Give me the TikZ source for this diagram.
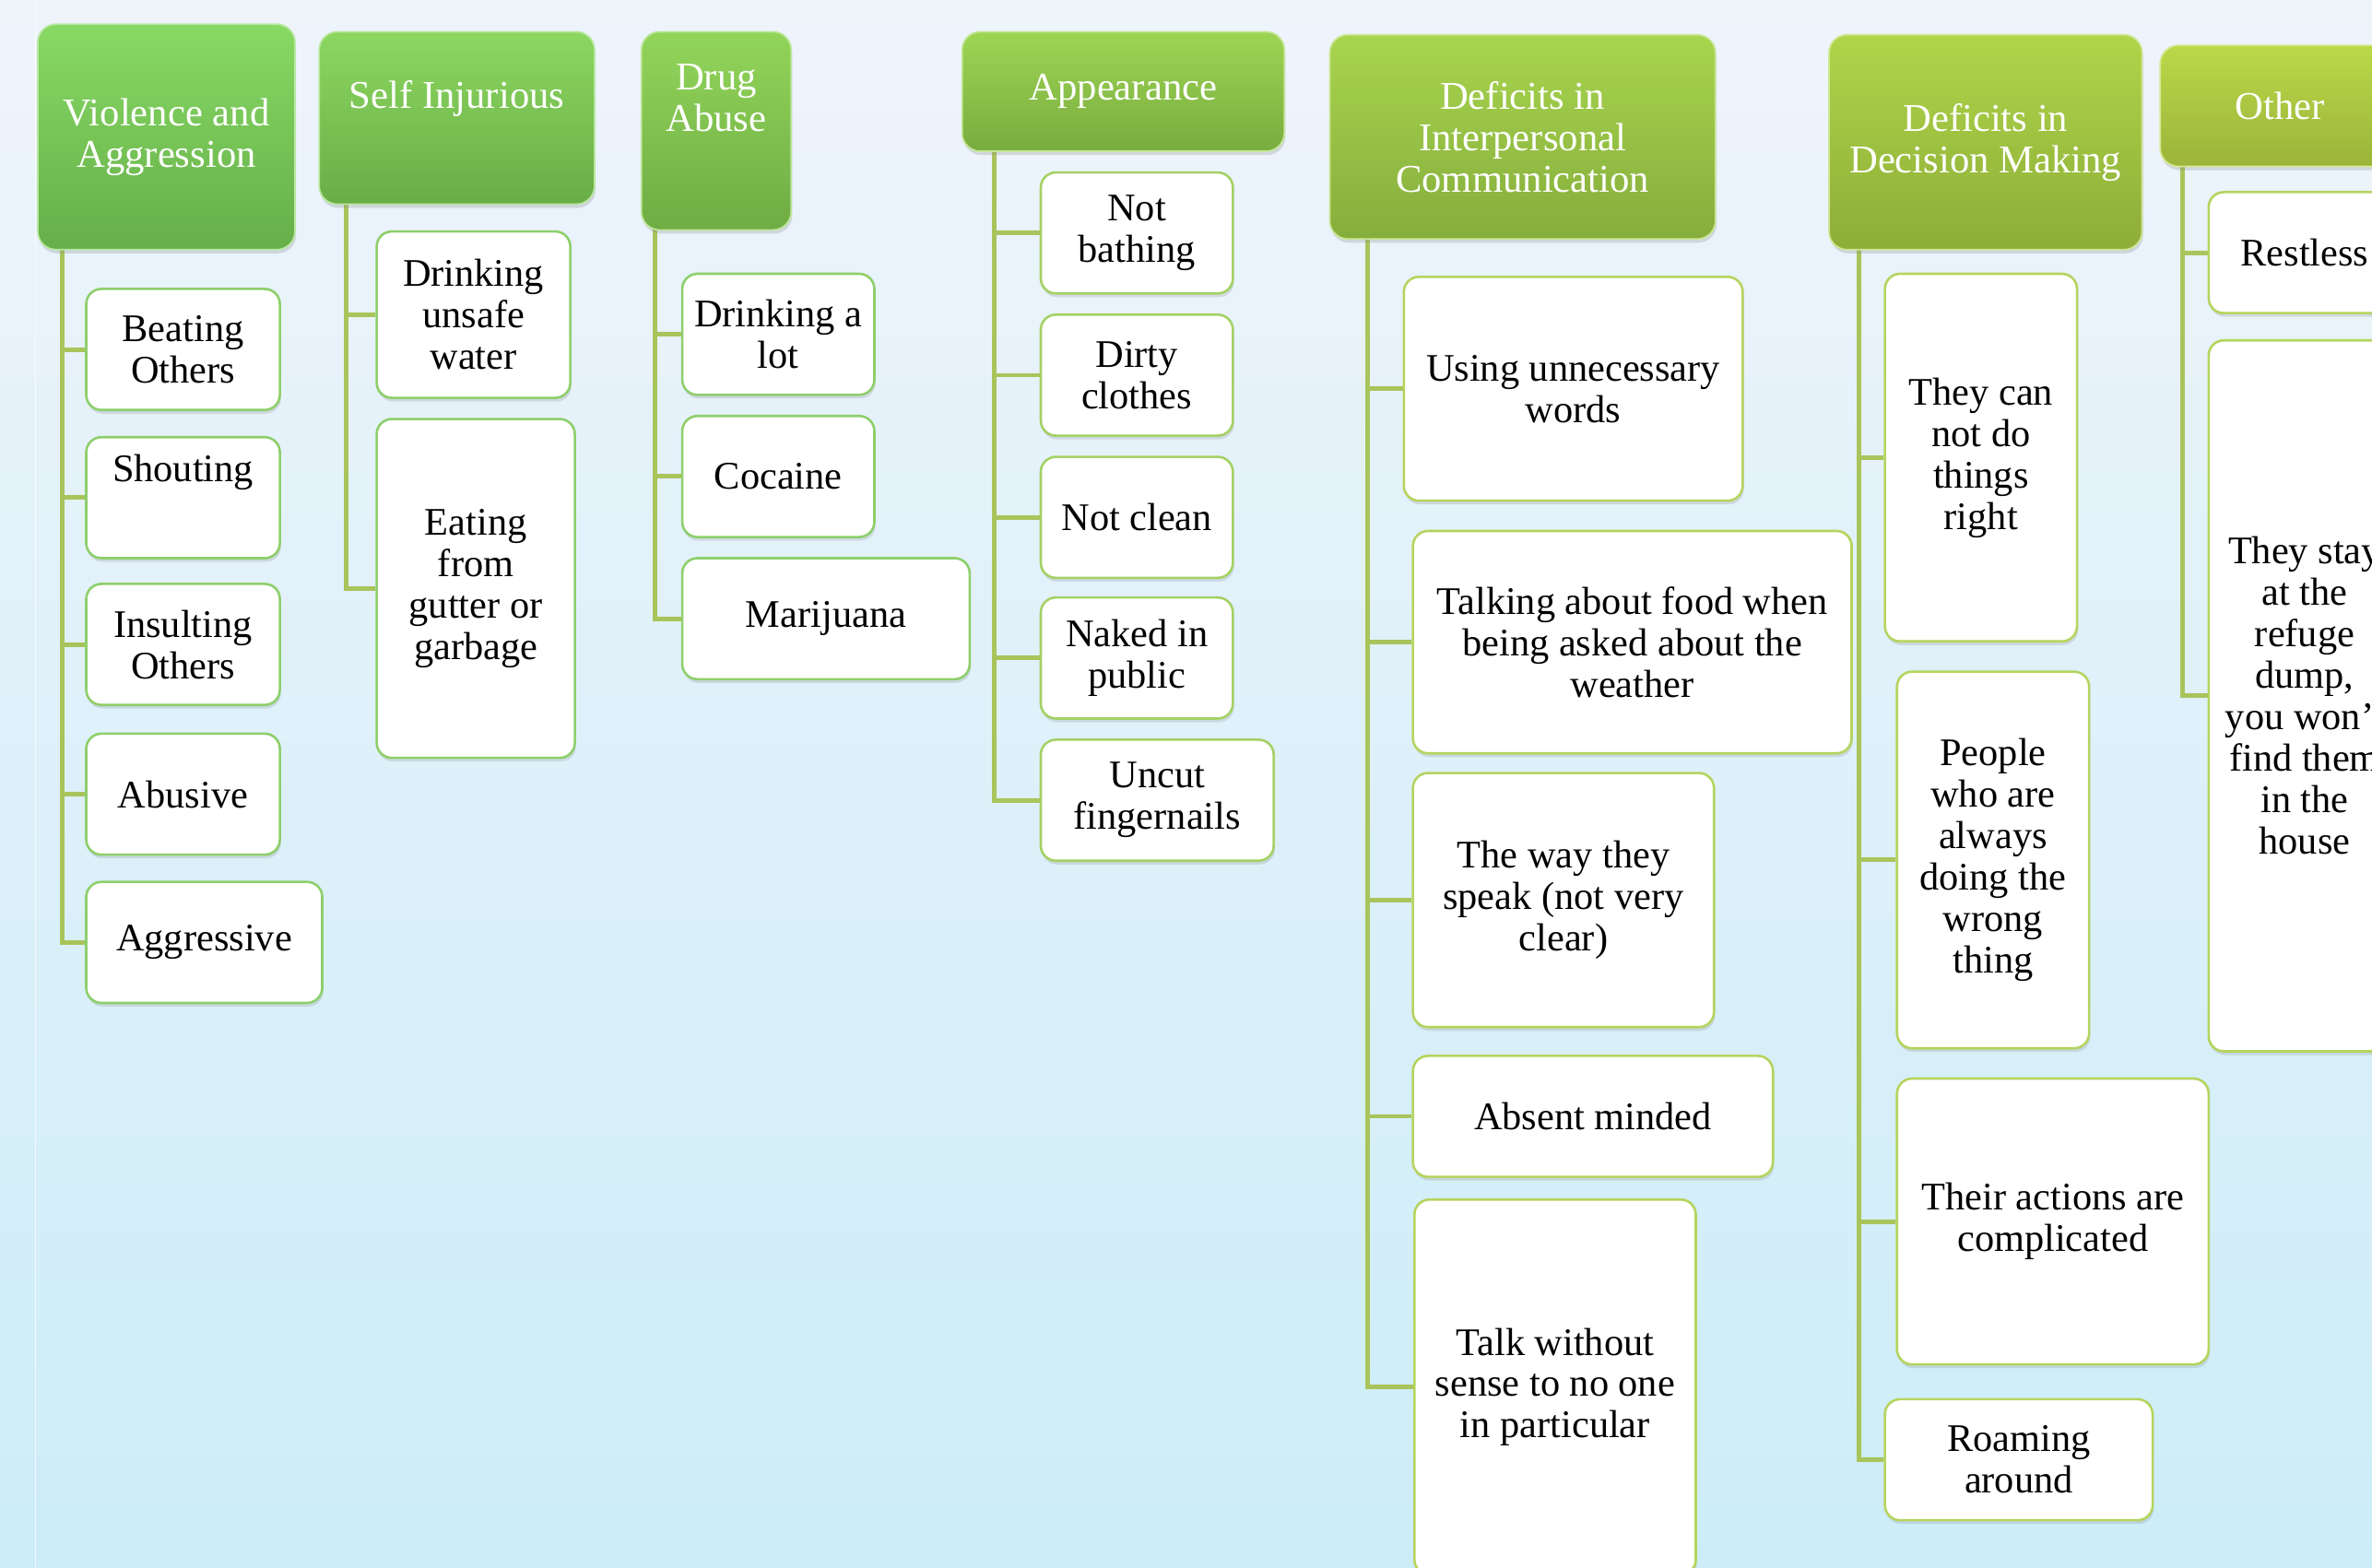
\documentclass[tikz,border=0pt]{standalone}
\usepackage{fontspec}
\setmainfont{Liberation Serif}
\usetikzlibrary{shadows}

\definecolor{bgtop}{HTML}{EFF4FB}
\definecolor{bgbot}{HTML}{CCEDF8}
\definecolor{spinecol}{HTML}{A9C45B}
\definecolor{hA1}{HTML}{88D964}\definecolor{hA2}{HTML}{66AF4A}
\definecolor{hB1}{HTML}{8CD760}\definecolor{hB2}{HTML}{69AD47}
\definecolor{hC1}{HTML}{92D55A}\definecolor{hC2}{HTML}{6FAC44}
\definecolor{hD1}{HTML}{9DD553}\definecolor{hD2}{HTML}{79AC3F}
\definecolor{hE1}{HTML}{A8D54E}\definecolor{hE2}{HTML}{85AD3C}
\definecolor{hF1}{HTML}{B0D54A}\definecolor{hF2}{HTML}{8DAD38}
\definecolor{hG1}{HTML}{BBD849}\definecolor{hG2}{HTML}{9BB43A}
\definecolor{lfA}{HTML}{8ECF6B}
\definecolor{lfB}{HTML}{A4D165}
\definecolor{lfC}{HTML}{B5D45E}

\tikzset{
  boxsize/.style 2 args={minimum width=#1*0.02cm, minimum height=#2*0.02cm},
  head/.style 2 args={rounded corners=0.24cm, top color=#1, bottom color=#2,
    draw=#1!60!white, line width=0.6pt, text=white, align=center, inner sep=0pt,
    font=\fontsize{14.8}{15.6}\selectfont,
    drop shadow={opacity=0.25, shadow xshift=0.4pt, shadow yshift=-1.4pt}},
  leaf/.style={rounded corners=0.2cm, fill=white, draw=#1, line width=0.9pt,
    align=center, inner sep=0pt, font=\fontsize{14.7}{15.6}\selectfont,
    drop shadow={opacity=0.22, shadow xshift=0.4pt, shadow yshift=-1.4pt}},
  leaf/.default=lfA,
  spine/.style={draw=spinecol, line width=1.7pt}
}

\begin{document}
\begin{tikzpicture}[x=0.02cm, y=-0.02cm]
\useasboundingbox (0, 0) rectangle (1568, 1036);
\clip (0, 0) rectangle (1568, 1036);
\shade[top color=bgtop, bottom color=bgbot] (0, 0) rectangle (1568, 1036);
\draw[white, opacity=0.7, line width=0.6pt] (23.5, 0) -- (23.5, 1036);

\coordinate (VAt) at (41, 165);
\coordinate (SIt) at (229, 135);
\coordinate (DAt) at (433, 152);
\coordinate (APt) at (657, 100);
\coordinate (DICt) at (904, 158);
\coordinate (DDMt) at (1229, 165);
\coordinate (OTt) at (1443, 110);

\node (BO) [leaf, boxsize={128}{80}] at (121, 231) {Beating\\Others};
\node (SH) [leaf, boxsize={128}{80}] at (121, 329) {Shouting\\[7pt]\mbox{}};
\node (IO) [leaf, boxsize={128}{80}] at (121, 426) {Insulting\\Others};
\node (AB) [leaf, boxsize={128}{80}] at (121, 525) {Abusive};
\node (AG) [leaf, boxsize={156}{80}] at (135, 623) {Aggressive};

\node (DW) [leaf, boxsize={128}{110}] at (313, 208) {Drinking\\unsafe\\water};
\node (EG) [leaf, boxsize={131}{224}] at (314.5, 389) {Eating\\from\\gutter or\\garbage};

\node (DL) [leaf, boxsize={127}{80}] at (514.5, 221) {Drinking a\\lot};
\node (CO) [leaf, boxsize={127}{80}] at (514.5, 315) {Cocaine};
\node (MA) [leaf, boxsize={190}{80}] at (546, 409) {Marijuana};

\node (NB) [leaf=lfB, boxsize={127}{80}] at (751.5, 154) {Not\\bathing};
\node (DC) [leaf=lfB, boxsize={127}{80}] at (751.5, 248) {Dirty\\clothes};
\node (NC) [leaf=lfB, boxsize={127}{80}] at (751.5, 342) {Not clean};
\node (NP) [leaf=lfB, boxsize={127}{80}] at (751.5, 435) {Naked in\\public};
\node (UF) [leaf=lfB, boxsize={154}{80}] at (765, 529) {Uncut\\fingernails};

\node (UW) [leaf=lfC, boxsize={224}{148}] at (1040, 257) {Using unnecessary\\words};
\node (TF) [leaf=lfC, boxsize={290}{147}] at (1079, 424.5) {Talking about food when\\being asked about the\\weather};
\node (WS) [leaf=lfC, boxsize={199}{168}] at (1033.5, 595) {The way they\\speak (not very\\clear)};
\node (AM) [leaf=lfC, boxsize={238}{80}] at (1053, 738) {Absent minded};
\node (TW) [leaf=lfC, boxsize={186}{248}] at (1028, 917) {Talk without\\sense to no one\\in particular};

\node (CR) [leaf=lfC, boxsize={127}{243}] at (1309.5, 302.5) {They can\\not do\\things\\right};
\node (PW) [leaf=lfC, boxsize={127}{249}] at (1317.5, 568.5) {People\\who are\\always\\doing the\\wrong\\thing};
\node (TA) [leaf=lfC, boxsize={206}{189}] at (1357, 807.5) {Their actions are\\complicated};
\node (RA) [leaf=lfC, boxsize={177}{80}] at (1334.5, 965) {Roaming\\around};

\node (RE) [leaf=lfC, boxsize={127}{80}] at (1523.5, 167) {Restless};
\node (TS) [leaf=lfC, boxsize={127}{470}] at (1523.5, 460) {They stay\\at the\\refuge\\dump,\\you won’t\\find them\\in the\\house};

\draw[spine] (VAt) |- (BO);
\draw[spine] (VAt) |- (SH);
\draw[spine] (VAt) |- (IO);
\draw[spine] (VAt) |- (AB);
\draw[spine] (VAt) |- (AG);
\draw[spine] (SIt) |- (DW);
\draw[spine] (SIt) |- (EG);
\draw[spine] (DAt) |- (DL);
\draw[spine] (DAt) |- (CO);
\draw[spine] (DAt) |- (MA);
\draw[spine] (APt) |- (NB);
\draw[spine] (APt) |- (DC);
\draw[spine] (APt) |- (NC);
\draw[spine] (APt) |- (NP);
\draw[spine] (APt) |- (UF);
\draw[spine] (DICt) |- (UW);
\draw[spine] (DICt) |- (TF);
\draw[spine] (DICt) |- (WS);
\draw[spine] (DICt) |- (AM);
\draw[spine] (DICt) |- (TW);
\draw[spine] (DDMt) |- (CR);
\draw[spine] (DDMt) |- (PW);
\draw[spine] (DDMt) |- (TA);
\draw[spine] (DDMt) |- (RA);
\draw[spine] (OTt) |- (RE);
\draw[spine] (OTt) |- (TS);

\node (VA) [head={hA1}{hA2}, boxsize={170}{149}] at (110, 90.5) {Violence and\\Aggression};
\node (SI) [head={hB1}{hB2}, boxsize={182}{114}] at (302, 78) {Self Injurious\\[2pt]\mbox{}};
\node (DA) [head={hC1}{hC2}, boxsize={99}{131}] at (473.5, 86.5) {Drug\\Abuse\\[9pt]\mbox{}};
\node (AP) [head={hD1}{hD2}, boxsize={213}{79}] at (742.5, 60.5) {Appearance};
\node (DIC) [head={hE1}{hE2}, boxsize={255}{135}] at (1006.5, 90.5) {Deficits in\\Interpersonal\\Communication};
\node (DDM) [head={hF1}{hF2}, boxsize={207}{142}] at (1312.5, 94) {Deficits in\\Decision Making};
\node (OT) [head={hG1}{hG2}, boxsize={158}{80}] at (1507, 70) {Other};
\end{tikzpicture}
\end{document}
